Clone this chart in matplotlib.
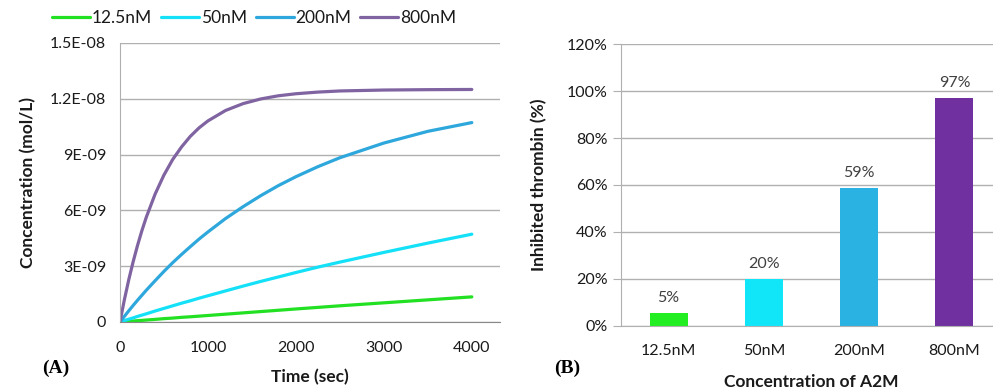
import matplotlib
matplotlib.use('Agg')
import matplotlib.pyplot as plt
from matplotlib.ticker import FuncFormatter

plt.rcParams['font.family'] = ['Lato', 'DejaVu Sans']

# (A) time course (mol/L, x1e-9)
time_s = [0, 50, 100, 150, 200, 250, 300, 400, 500, 600, 700, 800, 900,
          1000, 1200, 1400, 1600, 1800, 2000, 2250, 2500, 3000, 3500, 4000]
c_12_5 = [0, 0.017, 0.035, 0.052, 0.07, 0.087, 0.105, 0.14, 0.18, 0.21,
          0.25, 0.28, 0.315, 0.35, 0.42, 0.49, 0.56, 0.63, 0.70, 0.785,
          0.87, 1.03, 1.19, 1.35]
c_50 = [0, 0.075, 0.15, 0.22, 0.30, 0.37, 0.44, 0.59, 0.73, 0.87, 1.01,
        1.14, 1.28, 1.41, 1.67, 1.93, 2.18, 2.42, 2.66, 2.95, 3.22, 3.74,
        4.24, 4.72]
c_200 = [0, 0.30, 0.60, 0.89, 1.17, 1.44, 1.71, 2.22, 2.72, 3.19, 3.63,
         4.05, 4.46, 4.84, 5.56, 6.20, 6.79, 7.33, 7.81, 8.35, 8.83, 9.62,
         10.25, 10.72]
c_800 = [0, 1.19, 2.27, 3.24, 4.12, 4.92, 5.64, 6.88, 7.90, 8.74, 9.41,
         9.98, 10.44, 10.81, 11.37, 11.74, 11.99, 12.16, 12.27, 12.36,
         12.42, 12.47, 12.49, 12.50]

# (B) inhibited thrombin
doses = ['12.5nM', '50nM', '200nM', '800nM']
inhibited = [0.054, 0.198, 0.587, 0.971]

line_colors = ['#22E022', '#14E1F7', '#2EA8DC', '#8064A2']
bar_colors = ['#22EE22', '#11E6F8', '#2AB2E2', '#7030A0']
grid_c = '#B0B0B0'
txt_c = '#1A1A1A'

fig = plt.figure(figsize=(9.93, 3.91), dpi=100)

# ---- left panel
ax1 = fig.add_axes([0.1208, 0.1765, 0.3827, 0.7136])
series = [c_12_5, c_50, c_200, c_800]
for vals, col, lab in zip(series, line_colors, doses):
    ax1.plot(time_s, [v * 1e-9 for v in vals], color=col, lw=2.3, label=lab,
             solid_capstyle='round')
ax1.set_xlim(0, 4320)
ax1.set_ylim(0, 1.5e-8)
ax1.set_xticks([0, 1000, 2000, 3000, 4000])
ax1.set_yticks([0, 3e-9, 6e-9, 9e-9, 1.2e-8, 1.5e-8])
ax1.set_yticklabels(['0', '3E-09', '6E-09', '9E-09', '1.2E-08', '1.5E-08'])
ax1.grid(axis='y', color=grid_c, lw=1)
ax1.set_axisbelow(True)
for s in ['top', 'right']:
    ax1.spines[s].set_visible(False)
ax1.spines['left'].set_color(grid_c)
ax1.spines['bottom'].set_color('#888888')
ax1.tick_params(axis='y', length=0, labelsize=11.5, colors=txt_c, pad=10)
ax1.tick_params(axis='x', length=0, labelsize=11.5, colors=txt_c, pad=14)
ax1.set_xlabel('Time (sec)', fontsize=12.5, fontweight='bold', color=txt_c, labelpad=10)
ax1.set_ylabel('Concentration (mol/L)', fontsize=12.5, fontweight='bold',
               color=txt_c, labelpad=10)

fig.legend(loc='center', bbox_to_anchor=(0.256, 0.954), ncol=4, frameon=False,
           fontsize=12.5, handlelength=2.2, handletextpad=0.1, columnspacing=0.5,
           labelcolor=txt_c)

fig.text(0.042, 0.045, '(A)', fontsize=14, fontweight='bold', family='Liberation Serif')

# ---- right panel
ax2 = fig.add_axes([0.6254, 0.167, 0.3837, 0.72])
xs = range(len(doses))
ax2.bar(xs, inhibited, width=0.4, color=bar_colors)
for x, v in zip(xs, inhibited):
    ax2.text(x, v + 0.035, f'{round(v * 100):.0f}%', ha='center', va='bottom',
             fontsize=11.5, color='#404040')
ax2.set_xlim(-0.5, 3.5)
ax2.set_ylim(0, 1.2)
ax2.set_xticks(list(xs))
ax2.set_xticklabels(doses)
ax2.set_yticks([0, 0.2, 0.4, 0.6, 0.8, 1.0, 1.2])
ax2.yaxis.set_major_formatter(FuncFormatter(lambda v, p: f'{v * 100:.0f}%'))
ax2.grid(axis='y', color=grid_c, lw=1)
ax2.set_axisbelow(True)
for s in ['top', 'right']:
    ax2.spines[s].set_visible(False)
ax2.spines['left'].set_color(grid_c)
ax2.spines['bottom'].set_color(grid_c)
ax2.tick_params(axis='y', length=6, labelsize=11.5, colors=txt_c)
ax2.tick_params(axis='y', color=grid_c)
ax2.tick_params(axis='x', length=0, labelsize=11.5, colors=txt_c, pad=13)
ax2.set_xlabel('Concentration of A2M', fontsize=12.5, fontweight='bold',
               color=txt_c, labelpad=12)
ax2.set_ylabel('Inhibited thrombin (%)', fontsize=12.5, fontweight='bold',
               color=txt_c, labelpad=14)

fig.text(0.558, 0.045, '(B)', fontsize=14, fontweight='bold', family='Liberation Serif')

fig.savefig('out.png', dpi=100)
